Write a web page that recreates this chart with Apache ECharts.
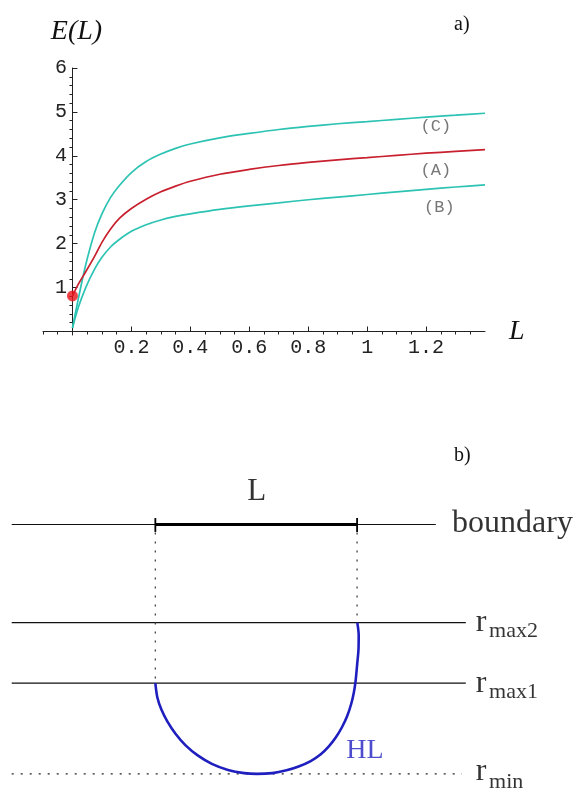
<!DOCTYPE html>
<html><head><meta charset="utf-8">
<script src="https://cdn.jsdelivr.net/npm/echarts@6/dist/echarts.min.js"></script>
<style>html,body{margin:0;padding:0;background:#fff}#c{width:579px;height:790px}</style>
</head><body><div id="c"></div>
<script>
// ---------- panel a) data ----------
const L   = [0, 0.02, 0.045, 0.075, 0.1, 0.13, 0.16, 0.2, 0.25, 0.3, 0.35, 0.4, 0.5, 0.6, 0.7, 0.8, 0.9, 1.0, 1.1, 1.2, 1.3, 1.4];
const E_C = [0.08, 0.75, 1.52, 2.25, 2.68, 3.06, 3.33, 3.62, 3.87, 4.04, 4.17, 4.27, 4.41, 4.51, 4.60, 4.67, 4.73, 4.78, 4.83, 4.88, 4.925, 4.97];
const E_A = [0.81, 1.08, 1.36, 1.71, 2.03, 2.34, 2.58, 2.80, 3.01, 3.18, 3.31, 3.42, 3.58, 3.69, 3.78, 3.85, 3.91, 3.96, 4.01, 4.06, 4.10, 4.14];
const E_B = [0.08, 0.55, 1.00, 1.42, 1.69, 1.93, 2.10, 2.28, 2.43, 2.54, 2.62, 2.68, 2.78, 2.86, 2.93, 3.00, 3.06, 3.12, 3.18, 3.235, 3.29, 3.34];
const dotL = [0];
const dotE = [0.81];
const curveNames = ['(C)', '(A)', '(B)'];
const xTickLabels = [0.2, 0.4, 0.6, 0.8, 1, 1.2];
const yTickLabels = [1, 2, 3, 4, 5, 6];

// ---------- panel b) diagram geometry (abstract units: L-segment = 1) ----------
const levelNames = ['boundary', 'max2', 'max1', 'min'];
const levelDepth = [0, 0.488, 0.789, 1.24];
const levelEnd   = [1.39, 1.539, 1.539, 1.52];
const lineStart  = -0.712;
const segX = [0, 1];
const hlX = [0, 0.01, 0.03, 0.06, 0.10, 0.15, 0.21, 0.28, 0.36, 0.44, 0.503, 0.58, 0.65, 0.71, 0.77, 0.82, 0.86, 0.895, 0.925, 0.95, 0.97, 0.984, 0.993, 1.0, 1.007, 1.008, 1.001];
const hlY = [0.789, 0.86, 0.92, 0.98, 1.04, 1.098, 1.148, 1.190, 1.220, 1.236, 1.240, 1.236, 1.222, 1.203, 1.176, 1.142, 1.103, 1.058, 1.008, 0.955, 0.895, 0.835, 0.775, 0.70, 0.62, 0.55, 0.488];

const zip = (a, b) => a.map((v, i) => [v, b[i]]);
const xMinor = [], yMinor = [];
for (let i = -2; i <= 28; i++) { if (i % 4 !== 0) xMinor.push(+(i * 0.05).toFixed(2)); }
for (let i = 1; i < 30; i++) { if (i % 5 !== 0) yMinor.push(+(i * 0.2).toFixed(1)); }

const cyan = '#2cc3b3', red = '#c8202e', blue = '#1f1fbf';
const mono = 'Liberation Mono', serif = 'Liberation Serif';
const axisCol = '#222';

function textSeries(xi, yi, pts, texts, style, pos) {
  return {
    type: 'scatter', xAxisIndex: xi, yAxisIndex: yi, symbolSize: 0, silent: true,
    data: pts.map((p, i) => ({ value: p, label: { formatter: texts[i] } })),
    label: Object.assign({ show: true, position: pos || 'inside', distance: 0 }, style)
  };
}
function curve(data, color) {
  return { type: 'line', xAxisIndex: 0, yAxisIndex: 0, data: data, showSymbol: false, symbol: 'none', smooth: 0.3, lineStyle: { color: color, width: 1.7 } };
}

const chart = echarts.init(document.getElementById('c'), null, { renderer: 'canvas' });
const opt = {
  animation: false,
  backgroundColor: '#fff',
  title: [
    { text: 'a)', left: 449, top: 10, textStyle: { fontFamily: serif, fontSize: 20, fontWeight: 'normal', color: '#111' } },
    { text: 'b)', left: 449, top: 441, textStyle: { fontFamily: serif, fontSize: 20, fontWeight: 'normal', color: '#111' } }
  ],
  grid: [
    { left: 43, top: 68, width: 442, height: 267, outerBoundsMode: 'none' },
    { left: 0, top: 440, width: 579, height: 350, outerBoundsMode: 'none' }
  ],
  xAxis: [
    { type: 'value', gridIndex: 0, min: -0.1, max: 1.4,
      axisLine: { show: true, onZero: true, onZeroAxisIndex: 0, lineStyle: { color: axisCol, width: 1 } },
      axisTick: { show: true, inside: true, length: 5, customValues: xTickLabels, lineStyle: { color: axisCol } },
      axisLabel: { show: true, customValues: xTickLabels, fontFamily: mono, fontSize: 20, color: '#222', margin: 3 },
      splitLine: { show: false },
      name: 'L', nameLocation: 'end', nameGap: 24,
      nameTextStyle: { fontFamily: serif, fontStyle: 'italic', fontSize: 28, color: '#111', align: 'left', verticalAlign: 'middle', padding: [18, 0, 0, 0] }
    },
    { type: 'value', gridIndex: 0, min: -0.1, max: 1.4,
      axisLine: { show: false, onZero: true, onZeroAxisIndex: 0 },
      axisTick: { show: true, inside: true, length: 3, customValues: xMinor, lineStyle: { color: axisCol } },
      axisLabel: { show: false }, splitLine: { show: false }
    },
    { type: 'value', gridIndex: 1, min: -0.77, max: 2.1, show: false, axisLine: { onZero: false } }
  ],
  yAxis: [
    { type: 'value', gridIndex: 0, min: -0.08, max: 6,
      axisLine: { show: true, onZero: true, onZeroAxisIndex: 0, lineStyle: { color: axisCol, width: 1 } },
      axisTick: { show: true, inside: true, length: 5, customValues: yTickLabels, lineStyle: { color: axisCol } },
      axisLabel: { show: true, customValues: yTickLabels, fontFamily: mono, fontSize: 20, color: '#222', margin: -24 },
      splitLine: { show: false },
      name: 'E(L)', nameLocation: 'end', nameGap: 36,
      nameTextStyle: { fontFamily: serif, fontStyle: 'italic', fontSize: 28, color: '#111', align: 'center', verticalAlign: 'middle', padding: [0, 0, 0, 8] }
    },
    { type: 'value', gridIndex: 0, min: -0.08, max: 6,
      axisLine: { show: false, onZero: true, onZeroAxisIndex: 0 },
      axisTick: { show: true, inside: true, length: 3, customValues: yMinor, lineStyle: { color: axisCol } },
      axisLabel: { show: false }, splitLine: { show: false }
    },
    { type: 'value', gridIndex: 1, min: -0.42, max: 1.32, inverse: true, show: false, axisLine: { onZero: false } }
  ],
  series: [
    curve(zip(L, E_C), cyan),
    curve(zip(L, E_A), red),
    curve(zip(L, E_B), cyan),
    { type: 'scatter', xAxisIndex: 0, yAxisIndex: 0, data: zip(dotL, dotE), symbolSize: 11, itemStyle: { color: '#e8141a' }, z: 5 },
    textSeries(0, 0, [[1.233, 4.66], [1.233, 3.67], [1.245, 2.82]], curveNames, { fontFamily: mono, fontSize: 17, color: '#555' }),

    // panel b
    { type: 'line', xAxisIndex: 2, yAxisIndex: 2, symbol: 'none', lineStyle: { color: '#111', width: 1.2 }, data: [[lineStart, levelDepth[0]], [levelEnd[0], levelDepth[0]]] },
    { type: 'line', xAxisIndex: 2, yAxisIndex: 2, symbol: 'none', lineStyle: { color: '#111', width: 1.2 }, data: [[lineStart, levelDepth[1]], [levelEnd[1], levelDepth[1]]] },
    { type: 'line', xAxisIndex: 2, yAxisIndex: 2, symbol: 'none', lineStyle: { color: '#111', width: 1.2 }, data: [[lineStart, levelDepth[2]], [levelEnd[2], levelDepth[2]]] },
    { type: 'line', xAxisIndex: 2, yAxisIndex: 2, symbol: 'none', lineStyle: { color: '#222', width: 1.3, type: [2, 7] }, data: [[lineStart, levelDepth[3]], [levelEnd[3], levelDepth[3]]] },
    { type: 'line', xAxisIndex: 2, yAxisIndex: 2, symbol: 'none', lineStyle: { color: '#000', width: 3.2 }, data: [[segX[0], levelDepth[0]], [segX[1], levelDepth[0]]] },
    { type: 'line', xAxisIndex: 2, yAxisIndex: 2, symbol: 'none', lineStyle: { color: '#000', width: 1.8 }, data: [[segX[0], levelDepth[0] - 0.032], [segX[0], levelDepth[0] + 0.037]] },
    { type: 'line', xAxisIndex: 2, yAxisIndex: 2, symbol: 'none', lineStyle: { color: '#000', width: 1.8 }, data: [[segX[1], levelDepth[0] - 0.032], [segX[1], levelDepth[0] + 0.037]] },
    { type: 'line', xAxisIndex: 2, yAxisIndex: 2, symbol: 'none', lineStyle: { color: '#444', width: 1.3, type: [2, 7] }, data: [[segX[0], levelDepth[0] + 0.04], [segX[0], levelDepth[2]]] },
    { type: 'line', xAxisIndex: 2, yAxisIndex: 2, symbol: 'none', lineStyle: { color: '#444', width: 1.3, type: [2, 7] }, data: [[segX[1], levelDepth[0] + 0.04], [segX[1], levelDepth[1]]] },
    { type: 'line', xAxisIndex: 2, yAxisIndex: 2, symbol: 'none', smooth: 0.3, lineStyle: { color: blue, width: 2.6 }, data: zip(hlX, hlY) },

    textSeries(2, 2, [[0.503, -0.162]], ['L'], { fontFamily: serif, fontSize: 31, color: '#000' }),
    textSeries(2, 2, [[1.471, -0.005]], [levelNames[0]], { fontFamily: serif, fontSize: 32, color: '#000' }, 'right'),
    textSeries(2, 2, [[1.588, levelDepth[1]], [1.588, levelDepth[2]], [1.588, levelDepth[3] - 0.01]], ['r', 'r', 'r'], { fontFamily: serif, fontSize: 32, color: '#000' }, 'right'),
    textSeries(2, 2, [[1.654, levelDepth[1] + 0.045], [1.654, levelDepth[2] + 0.047], [1.654, levelDepth[3] + 0.04]], [levelNames[1], levelNames[2], levelNames[3]], { fontFamily: serif, fontSize: 22, color: '#000' }, 'right'),
    textSeries(2, 2, [[1.039, 1.126]], ['HL'], { fontFamily: serif, fontSize: 28, color: blue })
  ]
};
chart.setOption(opt);
</script></body></html>
